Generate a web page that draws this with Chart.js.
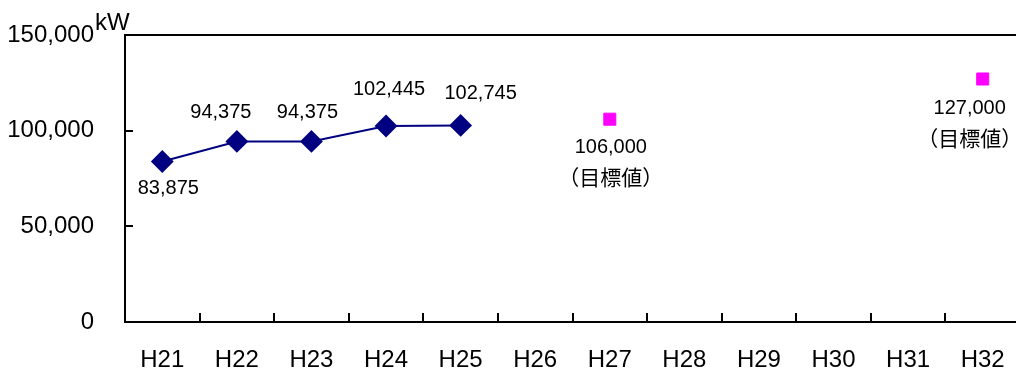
<!DOCTYPE html>
<html>
<head>
<meta charset="utf-8">
<script src="https://cdn.jsdelivr.net/npm/chart.js@4"></script>
<style>
  html, body { margin: 0; padding: 0; background: #fff; }
  #wrap { width: 1016px; height: 374px; overflow: hidden; }
</style>
</head>
<body>
<div id="wrap"><canvas id="kwChart" width="1032" height="374"></canvas></div>
<script>
// data
const years = ['H21', 'H22', 'H23', 'H24', 'H25', 'H26', 'H27', 'H28', 'H29', 'H30', 'H31', 'H32'];
const actual = [83875, 94375, 94375, 102445, 102745, null, null, null, null, null, null, null];
const target = [null, null, null, null, null, null, 106000, null, null, null, null, 127000];
const targetNote = '（目標値）';
const yTicks = [0, 50000, 100000, 150000];

const numFont = '"Liberation Sans", Arial, sans-serif';
const jpFont = '"Noto Sans CJK JP", sans-serif';

// where each value label sits relative to its point (centre of text)
const labelOffsets = {
    0: [[6, 27], [-16, -29], [-4, -29], [3, -37], [20, -32]],
    1: { 6: [1, 28], 11: [-13, 29] }
};

const fmt = v => v.toLocaleString('en-US');

const framePlugin = {
    id: 'frame',
    afterDatasetsDraw(chart) {
        const { ctx, chartArea: a, scales: { x, y } } = chart;
        ctx.save();
        ctx.strokeStyle = '#000';
        ctx.lineWidth = 2;
        ctx.beginPath();
        ctx.moveTo(a.left, a.top);
        ctx.lineTo(a.right, a.top);
        // inward ticks on the y axis
        yTicks.slice(1, -1).forEach(v => {
            const py = Math.round(y.getPixelForValue(v));
            ctx.moveTo(a.left, py);
            ctx.lineTo(a.left + 8, py);
        });
        // inward ticks between categories
        for (let i = 1; i < years.length; i++) {
            const px = Math.round((x.getPixelForTick(i - 1) + x.getPixelForTick(i)) / 2);
            ctx.moveTo(px, a.bottom);
            ctx.lineTo(px, a.bottom - 9);
        }
        ctx.stroke();

        // unit
        ctx.fillStyle = '#000';
        ctx.font = '24px ' + numFont;
        ctx.textAlign = 'left';
        ctx.textBaseline = 'middle';
        ctx.fillText('kW', a.left - 30, 23);

        // value labels
        ctx.textAlign = 'center';
        chart.data.datasets.forEach((ds, di) => {
            const meta = chart.getDatasetMeta(di);
            ds.data.forEach((v, i) => {
                if (v == null) return;
                const pt = meta.data[i];
                const off = labelOffsets[di][i];
                ctx.font = '20px ' + numFont;
                ctx.fillText(fmt(v), pt.x + off[0], pt.y + off[1]);
                if (di === 1) {
                    ctx.font = '21px ' + jpFont;
                    ctx.fillText(targetNote, pt.x + off[0], pt.y + off[1] + 30);
                }
            });
        });
        ctx.restore();
    }
};

new Chart(document.getElementById('kwChart'), {
    type: 'line',
    data: {
        labels: years,
        datasets: [{
            label: '実績',
            data: actual,
            borderColor: '#000080',
            backgroundColor: '#000080',
            borderWidth: 2,
            pointStyle: 'rectRot',
            pointRadius: 10,
            pointHoverRadius: 10,
            spanGaps: false
        }, {
            label: '目標値',
            data: target,
            showLine: false,
            borderColor: '#FF00FF',
            backgroundColor: '#FF00FF',
            pointStyle: 'rect',
            pointRadius: 8.5,
            pointHoverRadius: 8.5
        }]
    },
    options: {
        responsive: false,
        animation: false,
        layout: { padding: { left: 0, right: 7, top: 35, bottom: 0 } },
        plugins: {
            legend: { display: false },
            tooltip: { enabled: false }
        },
        scales: {
            x: {
                offset: true,
                grid: { display: false, drawTicks: false },
                border: { display: true, color: '#000', width: 2 },
                ticks: {
                    color: '#000',
                    font: { family: numFont, size: 24 },
                    padding: 24,
                    maxRotation: 0
                },
                afterFit(s) { s.height = 52; s.paddingLeft = 0; s.paddingRight = 0; }
            },
            y: {
                min: 0,
                max: 150000,
                grid: { display: false, drawTicks: false },
                border: { display: true, color: '#000', width: 2 },
                ticks: {
                    stepSize: 50000,
                    color: '#000',
                    font: { family: numFont, size: 24 },
                    padding: 31,
                    callback: v => fmt(v)
                },
                afterFit(s) { s.width = 125; s.paddingTop = 0; s.paddingBottom = 0; }
            }
        }
    },
    plugins: [framePlugin]
});
</script>
</body>
</html>
